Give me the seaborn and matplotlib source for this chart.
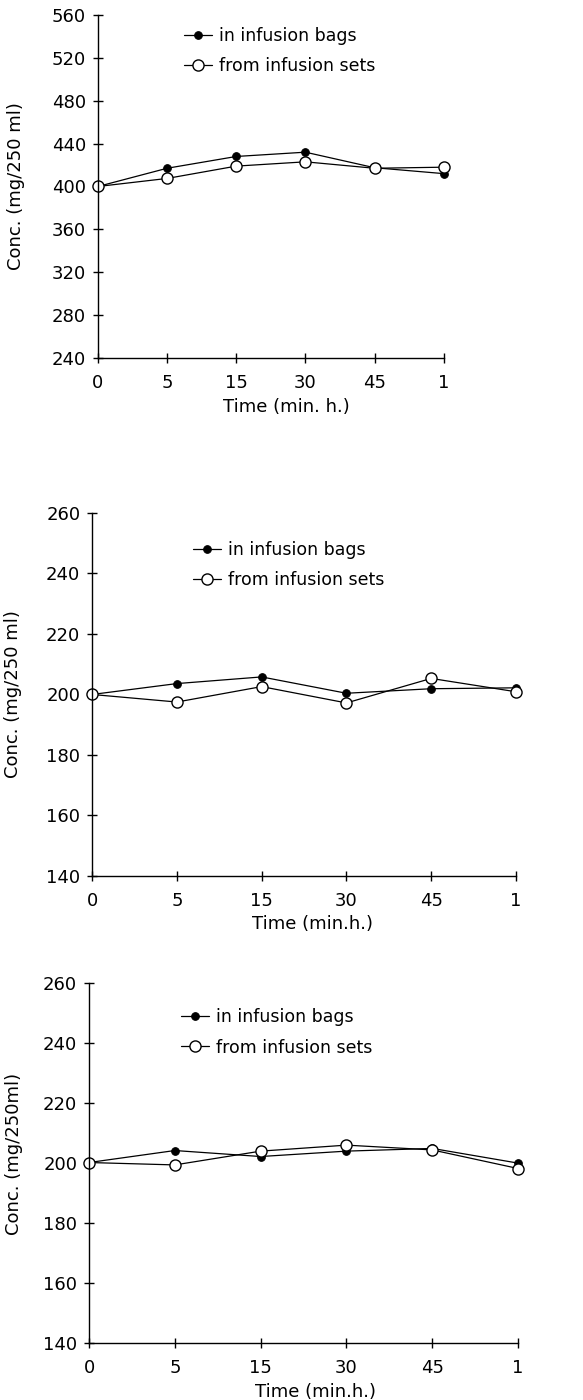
import pandas as pd
import seaborn as sns
import matplotlib.pyplot as plt

# time points (categorical, equally spaced on the original)
time_labels = ['0', '5', '15', '30', '45', '1']

# panel 1
bags_1 = [400, 417, 428, 432, 417.5, 412]
sets_1 = [400, 407.5, 419, 423, 417, 418]
# panel 2
bags_2 = [200, 203.6, 205.8, 200.4, 201.9, 202.2]
sets_2 = [200, 197.5, 202.6, 197.2, 205.3, 200.9]
# panel 3
bags_3 = [200.2, 204.2, 202.2, 204.0, 204.9, 200.0]
sets_3 = [200.2, 199.4, 204.0, 206.0, 204.4, 198.2]

y_ticks_1 = [240, 280, 320, 360, 400, 440, 480, 520, 560]
y_ticks_2 = [140, 160, 180, 200, 220, 240, 260]

sns.set_style('ticks')
plt.rcParams['font.family'] = ['DejaVu Sans']
plt.rcParams['text.color'] = 'black'
plt.rcParams['axes.labelcolor'] = 'black'
plt.rcParams['xtick.color'] = 'black'
plt.rcParams['ytick.color'] = 'black'

fig = plt.figure(figsize=(5.83, 14), dpi=100)

panels = [
    # axes rect, bags, sets, yticks, ylabel, xlabel, legend anchor, ylabel xy, xlabel xy
    ([0.168, 0.7443, 0.593, 0.245], bags_1, sets_1, y_ticks_1,
     'Conc. (mg/250 ml)', 'Time (min. h.)', (0.25, 0.965), (-0.211, 0.5), (0.546, -0.117)),
    ([0.158, 0.3743, 0.727, 0.2593], bags_2, sets_2, y_ticks_2,
     'Conc. (mg/250 ml)', 'Time (min.h.)', (0.238, 0.923), (-0.165, 0.5), (0.52, -0.107)),
    ([0.1527, 0.0407, 0.736, 0.257], bags_3, sets_3, y_ticks_2,
     'Conc. (mg/250ml)', 'Time (min.h.)', (0.214, 0.93), (-0.154, 0.525), (0.527, -0.112)),
]

for rect, bags, sets, yticks, ylab, xlab, anchor, ylxy, xlxy in panels:
    ax = fig.add_axes(rect)
    df = pd.DataFrame({'x': list(range(len(time_labels))), 'bags': bags, 'sets': sets})
    sns.lineplot(data=df, x='x', y='bags', ax=ax, color='black', lw=0.9,
                 marker='o', markersize=5.5, markerfacecolor='black',
                 markeredgecolor='black', label='in infusion bags', clip_on=False)
    sns.lineplot(data=df, x='x', y='sets', ax=ax, color='black', lw=0.9,
                 marker='o', markersize=8, markerfacecolor='white',
                 markeredgecolor='black', markeredgewidth=1.0,
                 label='from infusion sets', clip_on=False)
    ax.set_xlim(0, len(time_labels) - 1)
    ax.set_xticks(range(len(time_labels)))
    ax.set_xticklabels(time_labels)
    ax.set_ylim(yticks[0], yticks[-1])
    ax.set_yticks(yticks)
    ax.set_xlabel(xlab, fontsize=13)
    ax.set_ylabel(ylab, fontsize=13)
    ax.xaxis.set_label_coords(*xlxy)
    ax.yaxis.set_label_coords(*ylxy)
    sns.despine(ax=ax)
    for s in ['left', 'bottom']:
        ax.spines[s].set_linewidth(1.0)
        ax.spines[s].set_color('black')
    ax.tick_params(direction='inout', length=7, width=1.0, labelsize=13)
    ax.tick_params(axis='x', pad=8)
    ax.tick_params(axis='y', pad=5)
    ax.legend(loc='upper left', bbox_to_anchor=anchor, frameon=False,
              handlelength=1.6, handletextpad=0.4, borderpad=0,
              borderaxespad=0, labelspacing=0.7, fontsize=12.5)

fig.savefig('out.png', dpi=100, facecolor='white')
